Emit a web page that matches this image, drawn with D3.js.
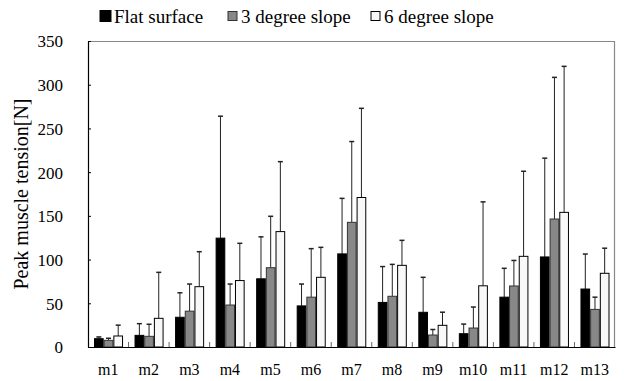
<!DOCTYPE html>
<html><head><meta charset="utf-8">
<script src="https://cdn.jsdelivr.net/npm/d3@7"></script>
<style>body{margin:0;background:#fff}</style>
</head><body>
<script>
const categories = ["m1","m2","m3","m4","m5","m6","m7","m8","m9","m10","m11","m12","m13"];
const seriesNames = ["Flat surface","3 degree slope","6 degree slope"];
const flatMean  = [9.5, 13.3, 34, 124.5, 78, 47, 106.5, 51, 39.7, 15.2, 57, 103, 66.3];
const flatErr   = [2, 13.4, 28, 139.5, 48, 25, 63.5, 41, 40, 11, 33, 113, 40];
const slope3Mean = [7.6, 12.2, 41, 48, 90.7, 57, 142.6, 58, 13.7, 21.7, 69.8, 146.4, 43];
const slope3Err  = [2.4, 13.8, 31, 24, 58.8, 55.5, 92.4, 36.5, 6.3, 24, 29.2, 162, 14];
const slope6Mean = [12.6, 32.8, 69, 76, 132, 79.7, 171, 93.4, 24.8, 70, 103.7, 154, 84.3];
const slope6Err  = [12.4, 52.6, 40, 42.6, 80, 34.3, 102, 28.6, 15, 96, 97.3, 167, 28.7];
const yTicks = [0, 50, 100, 150, 200, 250, 300, 350];

const FONT = "Liberation Serif";
const means = [flatMean, slope3Mean, slope6Mean];
const errs = [flatErr, slope3Err, slope6Err];
const fills = ["#000000", "#888888", "#f8f8f8"];
const strokes = ["#000000", "#333333", "#000000"];

const svg = d3.select("body").append("svg").attr("width", 624).attr("height", 381).style("display", "block");
const m = {l: 88, r: 615, t: 41, b: 347};
const x0 = d3.scaleBand().domain(categories).range([m.l, m.r]).paddingInner(0).paddingOuter(0);
const x1 = d3.scaleBand().domain(d3.range(3)).range([6, x0.bandwidth() - 5.5]);
const y = d3.scaleLinear().domain([0, 350]).range([m.b, m.t]);

svg.append("line").attr("x1", m.l).attr("x2", m.r).attr("y1", m.t + 0.5).attr("y2", m.t + 0.5).attr("stroke", "#888").attr("stroke-width", 1.2);
svg.append("line").attr("x1", m.r - 0.5).attr("x2", m.r - 0.5).attr("y1", m.t).attr("y2", m.b).attr("stroke", "#888").attr("stroke-width", 1.2);

categories.forEach((c, i) => {
  const g = svg.append("g").attr("transform", `translate(${x0(c)},0)`);
  for (let s = 0; s < 3; s++) {
    const v = means[s][i], e = errs[s][i];
    const bx = x1(s), bw = x1.bandwidth();
    const cx = bx + bw / 2;
    g.append("line").attr("x1", cx).attr("x2", cx).attr("y1", y(v)).attr("y2", y(v + e)).attr("stroke", "#222").attr("stroke-width", 1);
    g.append("line").attr("x1", cx - 2.5).attr("x2", cx + 2.5).attr("y1", y(v + e)).attr("y2", y(v + e)).attr("stroke", "#222").attr("stroke-width", 1.5);
    g.append("rect").attr("x", bx + 0.5).attr("y", y(v)).attr("width", bw - 1).attr("height", y(0) - y(v))
      .attr("fill", fills[s]).attr("stroke", strokes[s]).attr("stroke-width", 1);
  }
});

const yAxis = d3.axisLeft(y).tickValues(yTicks).tickSizeInner(-3).tickSizeOuter(0).tickPadding(25);
const ya = svg.append("g").attr("transform", `translate(${m.l},0)`).call(yAxis);
ya.attr("font-family", null).attr("font-size", null);
ya.select(".domain").attr("stroke", "#000").attr("stroke-width", 1.2);
ya.selectAll(".tick line").attr("stroke", "#000");
ya.selectAll(".tick text").attr("font-family", FONT).attr("font-size", 17).attr("dy", "0.35em");

const xa = svg.append("g").attr("transform", `translate(0,${m.b})`)
  .call(d3.axisBottom(x0).tickSize(0).tickPadding(17));
xa.attr("font-family", null).attr("font-size", null);
xa.select(".domain").attr("stroke", "#000").attr("stroke-width", 1.2);
xa.selectAll(".tick text").attr("font-family", FONT).attr("font-size", 16);
svg.append("g").selectAll("line").data(categories.slice(1)).join("line")
  .attr("x1", d => x0(d)).attr("x2", d => x0(d)).attr("y1", m.b).attr("y2", m.b - 5)
  .attr("stroke", "#666").attr("stroke-width", 1);

svg.append("text").attr("x", 0).attr("y", 0).attr("transform", "translate(28,194) rotate(-90)").attr("text-anchor", "middle")
  .attr("font-family", FONT).attr("font-size", 20).text("Peak muscle tension[N]");

const legX = [100, 227, 370];
seriesNames.forEach((n, s) => {
  const sz = s === 0 ? 11 : 9;
  svg.append("rect").attr("x", legX[s] + (s === 0 ? 0 : 1)).attr("y", 16 - sz / 2).attr("width", sz).attr("height", sz)
    .attr("fill", fills[s]).attr("stroke", strokes[s]).attr("stroke-width", 1);
  svg.append("text").attr("x", legX[s] + 14).attr("y", 23).attr("font-family", FONT).attr("font-size", 19).text(n);
});
</script></body></html>
